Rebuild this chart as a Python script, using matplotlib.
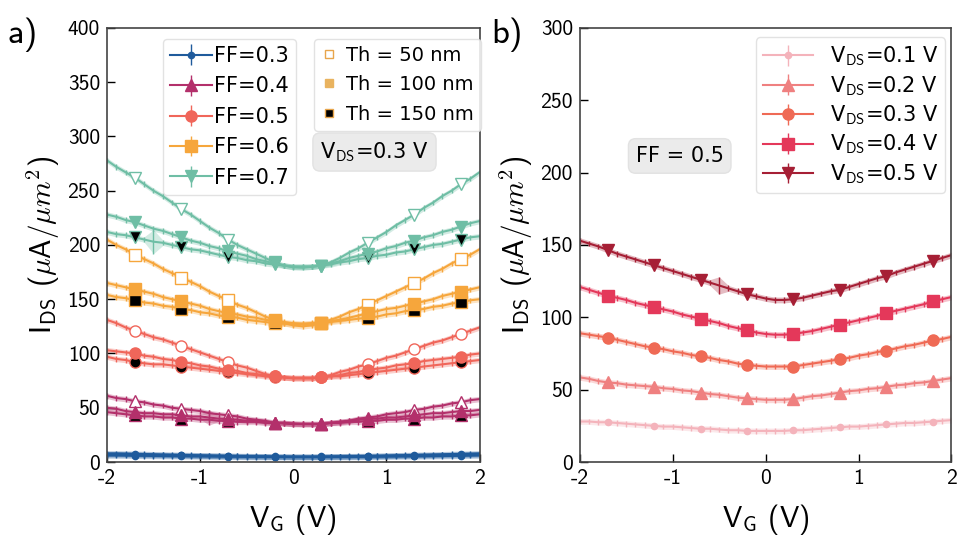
import matplotlib
matplotlib.use('Agg')
import matplotlib.pyplot as plt
from matplotlib.lines import Line2D
import numpy as np

# gate voltage grid (0.1 V step), markers every 0.5 V starting at -1.7 V
vg = np.round(np.arange(-20, 21) / 10, 1)
xticks = [-2, -1, 0, 1, 2]
xtick_labels = ['-2', '-1', '0', '1', '2']

# ---- panel a) : V_DS = 0.3 V, different fill factors / thicknesses ----
ff_labels = ['FF=0.3', 'FF=0.4', 'FF=0.5', 'FF=0.6', 'FF=0.7']
th_labels = ['Th = 50 nm', 'Th = 100 nm', 'Th = 150 nm']

ff03 = {
    50: [8, 8, 7.8, 7.6, 7.4, 7.2, 7, 6.8, 6.6, 6.4, 6.2, 6, 5.9, 5.8, 5.6, 5.5, 5.4, 5.3, 5.2, 5.1, 5,
         5, 5, 5.1, 5.2, 5.3, 5.4, 5.5, 5.6, 5.8, 6, 6.2, 6.4, 6.6, 6.8, 7, 7.2, 7.4, 7.6, 7.8, 8],
    100: [7, 7, 6.9, 6.8, 6.6, 6.5, 6.4, 6.2, 6.1, 6, 5.9, 5.8, 5.6, 5.5, 5.4, 5.3, 5.2, 5.1, 5, 4.9, 4.8,
          4.8, 4.8, 4.9, 5, 5.1, 5.2, 5.3, 5.4, 5.5, 5.6, 5.8, 5.9, 6, 6.1, 6.2, 6.4, 6.5, 6.6, 6.8, 7],
    150: [6, 6, 5.9, 5.8, 5.7, 5.6, 5.5, 5.4, 5.3, 5.2, 5.1, 5, 4.9, 4.8, 4.8, 4.7, 4.6, 4.6, 4.5, 4.5, 4.4,
          4.4, 4.4, 4.5, 4.5, 4.6, 4.6, 4.7, 4.8, 4.8, 4.9, 5, 5.1, 5.2, 5.3, 5.4, 5.5, 5.6, 5.7, 5.9, 6],
}
ff04 = {
    50: [61, 59, 58, 56, 55, 53, 52, 50, 49, 48, 47, 45, 44, 43, 42, 40, 39, 38, 36, 36, 35,
         35, 35, 35, 36, 37, 38, 40, 41, 42, 44, 45, 46, 48, 49, 51, 52, 54, 55, 57, 58],
    100: [50, 49, 47, 46, 45, 45, 44, 44, 43, 42, 42, 41, 40, 39.5, 39, 38, 38, 37, 36, 36, 35.5,
          35, 35, 35, 36, 37, 38, 39, 40, 40, 41, 41, 42, 43, 44, 45, 45, 46, 47, 47, 48],
    150: [46, 45, 44, 43, 42, 42, 41, 41, 40, 40, 39, 39, 38, 38, 37, 37, 37, 36, 36, 35.5, 35,
          35, 35, 35, 36, 36, 37, 37, 38, 38, 39, 39, 40, 40, 41, 41, 42, 42, 43, 43, 44],
}
ff05 = {
    50: [131, 128, 124, 121, 118, 115, 113, 110, 107, 104, 101, 98, 95, 92, 89, 87, 84, 81, 79, 78, 77,
         77, 77, 78, 80, 83, 85, 88, 90, 93, 96, 98, 101, 104, 107, 110, 112, 115, 118, 121, 124],
    100: [103, 102, 101, 100, 98, 97, 95, 94, 92, 91, 89, 88, 86, 85, 84, 82, 81, 80, 79, 78, 77.5,
          77.5, 77.5, 78, 79, 80, 82, 83, 85, 86, 87, 89, 90, 91, 93, 94, 95, 96, 97, 99, 100],
    150: [97, 95, 94, 92, 91, 90, 90, 89, 88, 87, 86, 85, 84, 83, 82, 81, 80, 79, 78, 78, 77.5,
          77.5, 77.5, 78, 79, 79, 80, 81, 82, 83, 84, 85, 86, 87, 88, 89, 90, 91, 92, 93, 94],
}
ff06 = {
    50: [205, 200, 196, 191, 187, 183, 178, 174, 170, 166, 162, 157, 153, 149, 145, 142, 138, 134, 131, 128, 126,
         125, 126, 128, 131, 134, 138, 141, 145, 149, 153, 157, 161, 165, 169, 174, 178, 183, 187, 191, 196],
    100: [165, 163, 161, 159, 157, 155, 152, 150, 148, 146, 144, 141, 139, 137, 136, 134, 133, 131, 130, 129, 128,
          127.5, 128, 128, 130, 131, 133, 135, 137, 139, 141, 142, 144, 146, 148, 150, 153, 155, 157, 159, 161],
    150: [154, 152, 151, 149, 147, 146, 144, 143, 141, 140, 138, 137, 135, 134, 133, 131, 130, 129, 128, 127.5, 127,
          127, 127.5, 128, 129, 130, 131, 132, 133, 134, 136, 137, 139, 140, 141, 143, 144, 146, 147, 149, 150],
}
ff07 = {
    50: [278, 272, 267, 262, 256, 250, 245, 239, 233, 228, 222, 216, 211, 205, 200, 196, 192, 188, 184, 181, 179.5,
         179, 180, 181, 184, 188, 193, 197, 202, 207, 212, 218, 223, 228, 234, 239, 245, 250, 256, 261, 267],
    100: [228, 226, 223, 221, 218, 215, 213, 210, 207, 204, 202, 199, 197, 194, 192, 190, 187, 185, 183, 181, 180,
          180, 180, 181, 183, 185, 188, 190, 192, 194, 197, 199, 202, 204, 207, 209, 212, 214, 217, 220, 222],
    150: [212, 210, 209, 207, 205, 203, 202, 200, 198, 196, 195, 193, 191, 189, 188, 186, 185, 183, 182, 181, 180,
          180, 180, 181, 182, 184, 185, 187, 188, 190, 191, 193, 194, 196, 198, 200, 201, 203, 205, 207, 208],
}
ff_data = [ff03, ff04, ff05, ff06, ff07]
ff_colors = ['#1f5b9c', '#b3306b', '#f0665a', '#f6a63c', '#6fbea5']
ff_markers = ['.', '^', 'o', 's', 'v']
err_a = 2.5
# (ff index, thickness, grid index) -> larger error bar
outliers_a = {(4, 150, 5): 11, (1, 100, 11): 7}

# ---- panel b) : FF = 0.5, different V_DS ----
vds_labels = [r'V$_\mathsf{DS}$=0.1 V', r'V$_\mathsf{DS}$=0.2 V', r'V$_\mathsf{DS}$=0.3 V',
              r'V$_\mathsf{DS}$=0.4 V', r'V$_\mathsf{DS}$=0.5 V']
vds01 = [28, 28, 27.5, 27.5, 27, 26.5, 26, 25.5, 25, 24.5, 24.5, 24, 23.5, 23, 23, 22.5, 22, 22, 21.5, 21.5, 21.5,
         21.5, 21.5, 22, 22, 22.5, 23, 23.5, 24, 24.5, 24.5, 25, 25.5, 26, 26.5, 27, 27, 27.5, 28, 28.5, 29]
vds02 = [58.5, 57.5, 56, 55, 54.5, 53.5, 53, 52.5, 52, 51, 50.5, 49.5, 49, 48, 47, 46.5, 45.5, 44.5, 44, 43.5, 43,
         43, 43, 43.5, 44.5, 45.5, 46, 47, 48, 49, 49.5, 50.5, 51, 52, 53, 53.5, 54.5, 55, 56, 57, 58]
vds03 = [89, 88, 87, 86, 84.5, 83, 81.5, 80, 79, 78, 76.5, 75.5, 74, 73, 72, 70.5, 69.5, 68, 67, 66.5, 66,
         66, 66, 66, 67, 68, 69, 70, 71, 72, 73.5, 74.5, 76, 77, 78.5, 80, 81, 82.5, 84, 85, 86.5]
vds04 = [121, 119, 117, 115, 113.5, 112, 110, 108.5, 107, 105.5, 104, 102, 100.5, 99, 97.5, 96, 94, 92.5, 91, 89.5, 88.5,
         88, 88, 88.5, 89.5, 90.5, 92, 93.5, 95, 96.5, 98, 99.5, 101, 103, 104.5, 106, 107.5, 109, 111, 112.5, 114]
vds05 = [153, 151, 149, 146.5, 144, 142, 140, 138, 136, 134, 132, 130, 128, 126, 124, 122, 120, 118, 116, 114.5, 113,
         112, 112, 112.5, 113.5, 115, 116.5, 118, 119, 121, 123, 125, 127, 128.5, 131, 133, 135, 137, 139, 141, 143]
vds_data = [vds01, vds02, vds03, vds04, vds05]
vds_colors = ['#f4b3bb', '#ef8080', '#ef6a55', '#e4385a', '#a61f35']
vds_markers = ['.', '^', 'o', 's', 'v']
err_b = 2.0
outliers_b = {(4, 15): 6}

plt.rcParams['mathtext.fontset'] = 'cm'
plt.rcParams['axes.unicode_minus'] = False
SANS = 'cmss10'
every = slice(3, None, 5)

fig = plt.figure(figsize=(9.63, 5.36), dpi=100)
ax1 = fig.add_axes([0.111, 0.138, 0.387, 0.810])
ax2 = fig.add_axes([0.602, 0.138, 0.386, 0.810])


def draw(ax, y, err, color, marker, mfc, label=None, ms=7):
    y = np.array(y, dtype=float)
    ax.fill_between(vg, y - err, y + err, color=color, alpha=0.3, lw=0)
    return ax.errorbar(vg, y, yerr=err, color=color, marker=marker, markevery=every,
                       ms=ms, mfc=mfc, mec=color, lw=1.5, elinewidth=1.0, capsize=0,
                       label=label)


handles_ff = []
for i, data in enumerate(ff_data):
    c = ff_colors[i]
    ms = 9 if ff_markers[i] == '.' else 8
    for th, mfc in [(50, 'white'), (150, 'black'), (100, c)]:
        err = np.full(vg.size, err_a)
        for (fi, t, k), v in outliers_a.items():
            if fi == i and t == th:
                err[k] = v
        h = draw(ax1, data[th], err, c, ff_markers[i], mfc, ms=ms,
                 label=ff_labels[i] if th == 100 else None)
        if th == 100:
            handles_ff.append(h)

handles_vds = []
for i, data in enumerate(vds_data):
    c = vds_colors[i]
    err = np.full(vg.size, err_b)
    for (vi, k), v in outliers_b.items():
        if vi == i:
            err[k] = v
    ms = 9 if vds_markers[i] == '.' else 8
    handles_vds.append(draw(ax2, data, err, c, vds_markers[i], c, label=vds_labels[i], ms=ms))

for ax, ymax in [(ax1, 400), (ax2, 300)]:
    ax.set_xlim(-2, 2)
    ax.set_ylim(0, ymax)
    ax.set_xticks(xticks)
    ax.set_xticklabels(xtick_labels)
    ax.set_yticks(np.arange(0, ymax + 1, 50))
    ax.tick_params(direction='in', length=6, width=1, top=False, right=False,
                   labelsize=15.5, pad=5)
    for lab in ax.get_xticklabels() + ax.get_yticklabels():
        lab.set_family(SANS)
    for s in ax.spines.values():
        s.set_color('#444444')
        s.set_linewidth(1.2)
    ax.set_xlabel(r'V$_\mathsf{G}$ (V)', family=SANS, fontsize=21, labelpad=10)
    ax.set_ylabel(r'I$_\mathsf{DS}$ ($\mu$A/$\mu m^2$)', family=SANS, fontsize=21, labelpad=4)

leg_kw = dict(fontsize=15, framealpha=0.85, edgecolor='#dddddd', borderaxespad=0,
              borderpad=0.35)
leg1 = ax1.legend(handles=handles_ff, loc='upper left', bbox_to_anchor=(0.15, 0.975),
                  handlelength=2.0, handletextpad=0.1, labelspacing=0.5, **leg_kw)
ax1.add_artist(leg1)
th_handles = [Line2D([], [], ls='none', marker='s', ms=6, mfc='white', mec='#e8a54b'),
              Line2D([], [], ls='none', marker='s', ms=6, mfc='#e9b35f', mec='#e9b35f'),
              Line2D([], [], ls='none', marker='s', ms=6, mfc='black', mec='#e8a54b')]
ax1.legend(th_handles, th_labels, loc='upper left', bbox_to_anchor=(0.556, 0.975),
           fontsize=14, framealpha=0.85, edgecolor='#dddddd', borderaxespad=0,
           handlelength=0.8, handletextpad=0.5, labelspacing=0.55, borderpad=0.35)
ax2.legend(handles=handles_vds, loc='upper right', bbox_to_anchor=(0.984, 0.978),
           handlelength=2.4, handletextpad=0.8, labelspacing=0.28, **leg_kw)

box = dict(boxstyle='round,pad=0.35', facecolor='#ebebeb', edgecolor='#e2e2e2')
ax1.text(0.718, 0.714, r'V$_\mathsf{DS}$=0.3 V', transform=ax1.transAxes, fontsize=15,
         ha='center', va='center', bbox=box)
ax2.text(0.269, 0.705, 'FF = 0.5', transform=ax2.transAxes, fontsize=15,
         ha='center', va='center', bbox=box)

fig.text(0.008, 0.92, 'a)', family=SANS, fontsize=25)
fig.text(0.51, 0.92, 'b)', family=SANS, fontsize=25)

fig.savefig('out.png', dpi=100)
